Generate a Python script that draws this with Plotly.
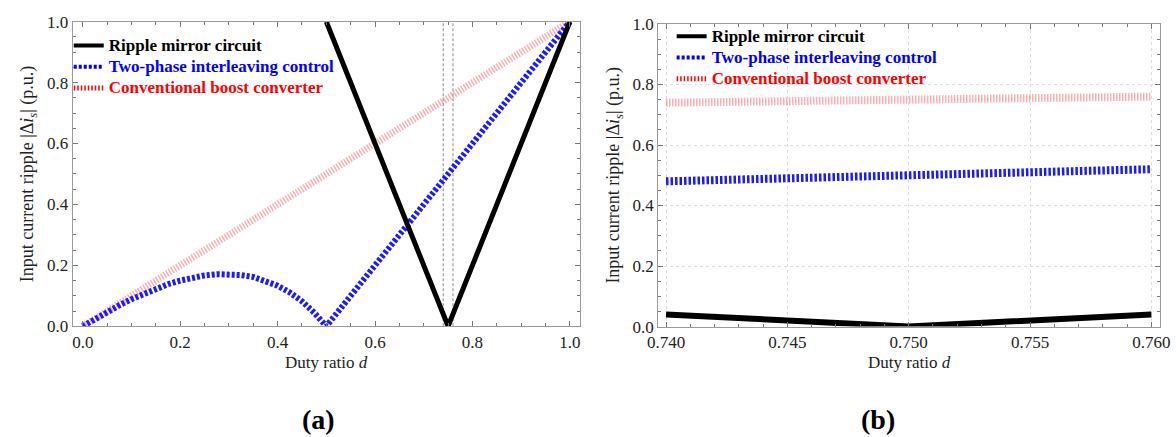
import plotly.graph_objects as go

# ---- data ----
d_mirror = [0.5, 0.75, 1.0]
ripple_mirror = [1.0, 0.0, 1.0]

d_inter = [0, 0.025, 0.05, 0.075, 0.1, 0.125, 0.15, 0.175, 0.2, 0.225, 0.25, 0.275,
           0.3, 0.325, 0.35, 0.375, 0.4, 0.425, 0.45, 0.475, 0.5, 1.0]
ripple_inter = [0, 0.024, 0.047, 0.069, 0.089, 0.107, 0.123, 0.138, 0.150, 0.160, 0.167, 0.171,
                0.171, 0.168, 0.162, 0.150, 0.133, 0.111, 0.082, 0.045, 0.0, 1.0]

d_conv = [0.0, 1.0]
ripple_conv = [0.0, 1.0]

zoom_d_mirror = [0.74, 0.75, 0.76]
zoom_mirror = [0.04, 0.0, 0.04]
zoom_d = [0.74, 0.76]
zoom_inter = [0.48, 0.52]
zoom_conv = [0.74, 0.76]

marker_lines = [0.74, 0.76]

names = ["Ripple mirror circuit", "Two-phase interleaving control", "Conventional boost converter"]
name_colors = ["black", "blue", "red"]

SERIF = "Liberation Serif"

fig = go.Figure()

# ---- left panel ----
for xv in marker_lines:
    fig.add_trace(go.Scatter(x=[xv, xv], y=[0, 1], mode="lines", xaxis="x", yaxis="y",
                             line=dict(color="#888888", width=1, dash="3px,2px"),
                             showlegend=False, hoverinfo="skip"))
fig.add_trace(go.Scatter(x=d_conv, y=ripple_conv, mode="lines", xaxis="x", yaxis="y",
                         line=dict(color="rgba(255,110,110,0.55)", width=7, dash="1.5px,1.5px"),
                         showlegend=False))
fig.add_trace(go.Scatter(x=d_inter, y=ripple_inter, mode="lines", xaxis="x", yaxis="y",
                         line=dict(color="#1a1aff", width=6, dash="3px,2px"),
                         showlegend=False))
fig.add_trace(go.Scatter(x=d_mirror, y=ripple_mirror, mode="lines", xaxis="x", yaxis="y",
                         line=dict(color="black", width=5), showlegend=False))

# ---- right panel ----
fig.add_trace(go.Scatter(x=zoom_d, y=zoom_conv, mode="lines", xaxis="x2", yaxis="y2",
                         line=dict(color="rgba(255,110,110,0.55)", width=8, dash="1.5px,1.5px"),
                         showlegend=False))
fig.add_trace(go.Scatter(x=zoom_d, y=zoom_inter, mode="lines", xaxis="x2", yaxis="y2",
                         line=dict(color="#1a1aff", width=8, dash="2.5px,2px"),
                         showlegend=False))
fig.add_trace(go.Scatter(x=zoom_d_mirror, y=zoom_mirror, mode="lines", xaxis="x2", yaxis="y2",
                         line=dict(color="black", width=6), showlegend=False))

# ---- legend entries ----
leg_styles = [dict(color="black", width=4),
              dict(color="blue", width=4, dash="3px,2px"),
              dict(color="red", width=5, dash="1.5px,2px")]
for lg, xa, ya in [("legend", "x", "y"), ("legend2", "x2", "y2")]:
    for nm, col, st in zip(names, name_colors, leg_styles):
        fig.add_trace(go.Scatter(x=[None], y=[None], mode="lines", xaxis=xa, yaxis=ya,
                                 line=st, legend=lg,
                                 name=f"<b><span style='color:{col};font-size:17px'>{nm}</span></b>"))

axis_common = dict(showline=True, linecolor="#999999", linewidth=1, mirror="ticks",
                   ticks="inside", ticklen=5, tickcolor="#777777", zeroline=False,
                   ticklabeloverflow="allow",
                   tickfont=dict(family=SERIF, size=17, color="#222222"))

ytitle = "Input current ripple |Δ<i>i<sub>s</sub></i>| (p.u.)"
title_font_x = dict(family=SERIF, size=17, color="#222222")
title_font_y = dict(family=SERIF, size=18, color="#222222")

fig.update_layout(
    width=1176, height=437, margin=dict(l=0, r=0, t=0, b=0),
    paper_bgcolor="white", plot_bgcolor="white",
    font=dict(family=SERIF),
    xaxis=dict(domain=[0.0533, 0.4923], range=[-0.021, 1.020], tickvals=[0, 0.2, 0.4, 0.6, 0.8, 1.0],
               ticktext=["0.0", "0.2", "0.4", "0.6", "0.8", "1.0"],
               minor=dict(dtick=0.05, ticklen=3, ticks="inside", tickcolor="#777777"),
               showgrid=False, anchor="y",
               title=dict(text="Duty ratio <i>d</i>", standoff=5, font=title_font_x),
               **axis_common),
    yaxis=dict(domain=[0.2410, 0.9696], range=[0, 1.0], tickvals=[0, 0.2, 0.4, 0.6, 0.8, 1.0],
               ticktext=["0.0", "0.2", "0.4", "0.6", "0.8", "1.0"],
               minor=dict(dtick=0.05, ticklen=3, ticks="inside", tickcolor="#777777"),
               showgrid=False, anchor="x",
               title=dict(text=ytitle, standoff=8, font=title_font_y),
               **axis_common),
    xaxis2=dict(domain=[0.5604, 0.9949], range=[0.73968, 0.76036],
                tickvals=[0.74, 0.745, 0.75, 0.755, 0.76],
                ticktext=["0.740", "0.745", "0.750", "0.755", "0.760"],
                minor=dict(dtick=0.001, ticklen=3, ticks="inside", tickcolor="#777777", showgrid=False),
                showgrid=True, gridcolor="#dddddd", griddash="dot", gridwidth=1,
                anchor="y2",
                title=dict(text="Duty ratio <i>d</i>", standoff=5, font=title_font_x),
                **axis_common),
    yaxis2=dict(domain=[0.2403, 0.9641], range=[0, 1.0], tickvals=[0, 0.2, 0.4, 0.6, 0.8, 1.0],
                ticktext=["0.0", "0.2", "0.4", "0.6", "0.8", "1.0"],
                minor=dict(dtick=0.05, ticklen=3, ticks="inside", tickcolor="#777777", showgrid=False),
                showgrid=True, gridcolor="#dddddd", griddash="dot", gridwidth=1,
                anchor="x2",
                title=dict(text=ytitle, standoff=8, font=title_font_y),
                **axis_common),
    legend=dict(x=0.050, y=0.950, xanchor="left", yanchor="top", bgcolor="rgba(0,0,0,0)",
                font=dict(family=SERIF, size=14), tracegroupgap=0, itemwidth=30),
    legend2=dict(x=0.5720, y=0.972, xanchor="left", yanchor="top", bgcolor="rgba(0,0,0,0)",
                 font=dict(family=SERIF, size=14), tracegroupgap=0, itemwidth=30),
    annotations=[
        dict(text="<b>(a)</b>", x=313 / 1176, y=1 - 429 / 437, xref="paper", yref="paper",
             xanchor="center", yanchor="middle",
             showarrow=False, font=dict(family=SERIF, size=28, color="black")),
        dict(text="<b>(b)</b>", x=883 / 1176, y=1 - 429 / 437, xref="paper", yref="paper",
             xanchor="center", yanchor="middle",
             showarrow=False, font=dict(family=SERIF, size=28, color="black")),
    ],
)

fig.write_html("out.html")
